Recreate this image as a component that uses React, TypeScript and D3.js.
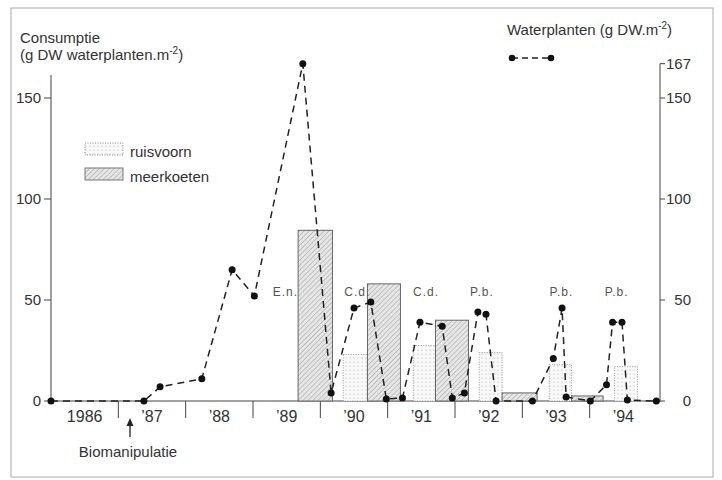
import React from "react";
import * as d3 from "d3";

// year labels and the boundaries between the years
const yearLabels = ["1986", "’87", "’88", "’89", "’90", "’91", "’92", "’93", "’94"];
const yearStarts = [1986, 1987, 1988, 1989, 1990, 1991, 1992, 1993, 1994];
const yearTicks = [1987, 1988, 1989, 1990, 1991, 1992, 1993, 1994];
const leftTicks = [0, 50, 100, 150];
const rightTicks = [0, 50, 100, 150, 167];

// waterplanten biomass (dashed line)
const plantYear = [
	1986.0, 1987.38, 1987.62, 1988.24, 1988.69, 1989.02, 1989.74, 1990.16, 1990.5,
	1990.75, 1990.98, 1991.22, 1991.48, 1991.81, 1991.96, 1992.14, 1992.34, 1992.46,
	1992.61, 1993.15, 1993.46, 1993.59, 1993.65, 1994.01, 1994.25, 1994.34, 1994.48,
	1994.56, 1994.99,
];
const plantValue = [
	0, 0, 7, 11, 65, 52, 167, 4, 46, 49, 1, 1.5, 39, 37, 1.5, 4, 44, 43, 0, 0, 21, 46,
	2, 0, 8, 39, 39, 0.5, 0,
];

// consumption bars
const ruisvoornStart = [1990.34, 1991.38, 1992.36, 1993.4, 1994.37];
const ruisvoornEnd = [1990.7, 1991.71, 1992.7, 1993.73, 1994.71];
const ruisvoornValue = [23, 27.5, 24, 18, 17];
const meerkoetenStart = [1989.67, 1990.7, 1991.71, 1992.7, 1993.73];
const meerkoetenEnd = [1990.18, 1991.19, 1992.2, 1993.22, 1994.2];
const meerkoetenValue = [84.5, 58, 40, 4, 2.5];

// species notes above the peaks
const noteText = ["E.n.", "C.d.", "C.d.", "P.b.", "P.b.", "P.b."];
const noteYear = [1989.48, 1990.55, 1991.57, 1992.4, 1993.58, 1994.4];
const noteLevel = 52;

const App = () => {
	const width = 722;
	const height = 480;
	const font = "'Liberation Sans', Arial, sans-serif";
	const ink = "#333";

	const x = d3.scaleLinear().domain([1986, 1995]).range([51, 657]);
	const y = d3.scaleLinear().domain([0, 150]).range([401, 98]);
	const x0 = x(1986);
	const xEnd = x(1995);
	const rightX = 660;

	const line = d3
		.line<number>()
		.x((d, i) => x(plantYear[i]))
		.y((d) => y(d));

	return (
		<svg
			width={width}
			height={height}
			style={{ position: "absolute", left: 0, top: 0, background: "#fff" }}
			fontFamily={font}
		>
			<defs>
				<pattern id="hatch" patternUnits="userSpaceOnUse" width={3.5} height={3.5} patternTransform="rotate(45)">
					<rect width={3.5} height={3.5} fill="#e6e6e6" />
					<line x1={0} y1={0} x2={0} y2={3.5} stroke="#9a9a9a" strokeWidth={1} />
				</pattern>
				<pattern id="dots" patternUnits="userSpaceOnUse" width={4} height={4}>
					<rect width={4} height={4} fill="#f9f9f9" />
					<circle cx={2} cy={2} r={0.6} fill="#aaa" />
				</pattern>
			</defs>

			{/* frame */}
			<rect x={11} y={8} width={702} height={469} fill="none" stroke="#aaa" strokeWidth={1} />

			{/* titles */}
			<text x={20} y={43} fontSize={15} fill={ink}>Consumptie</text>
			<text x={20} y={60} fontSize={15} fill={ink}>
				(g DW waterplanten.m<tspan fontSize={10} dy={-6}>-2</tspan>
				<tspan dy={6}>)</tspan>
			</text>
			<text x={507} y={35} fontSize={15} fill={ink}>
				Waterplanten (g DW.m<tspan fontSize={10} dy={-6}>-2</tspan>
				<tspan dy={6}>)</tspan>
			</text>
			<line x1={512} y1={58} x2={551} y2={58} stroke="#222" strokeWidth={1.4} strokeDasharray="6,4" />
			<circle cx={512} cy={58} r={3.3} fill="#111" />
			<circle cx={551} cy={58} r={3.3} fill="#111" />

			{/* legend */}
			<rect x={85} y={143} width={38} height={12} fill="url(#dots)" stroke="#888" strokeDasharray="1,1.5" />
			<text x={130} y={157} fontSize={15} fill={ink}>ruisvoorn</text>
			<rect x={85} y={168} width={38} height={12} fill="url(#hatch)" stroke="#777" />
			<text x={130} y={182} fontSize={15} fill={ink}>meerkoeten</text>

			{/* left axis */}
			<line x1={x0} y1={75} x2={x0} y2={y(0)} stroke="#444" />
			{leftTicks.map((t) => (
				<g key={`l${t}`}>
					<line x1={x0 - 7} x2={x0} y1={y(t)} y2={y(t)} stroke="#444" />
					<text x={41} y={y(t) + 5} fontSize={15} textAnchor="end" fill={ink}>{t}</text>
				</g>
			))}

			{/* right axis */}
			<line x1={rightX} y1={y(167)} x2={rightX} y2={y(0) + 1} stroke="#444" />
			{rightTicks.map((t) => (
				<g key={`r${t}`}>
					<line x1={rightX} x2={rightX + 5} y1={y(t)} y2={y(t)} stroke="#444" />
					<text x={691} y={y(t) + 5} fontSize={15} textAnchor="end" fill={ink}>{t}</text>
				</g>
			))}

			{/* bottom axis */}
			<line x1={x0} x2={xEnd} y1={y(0)} y2={y(0)} stroke="#444" />
			{yearTicks.map((t) => (
				<line key={`t${t}`} x1={x(t)} x2={x(t)} y1={y(0)} y2={y(0) + 17} stroke="#444" />
			))}
			{yearLabels.map((lab, i) => (
				<text key={lab} x={x(yearStarts[i] + 0.5)} y={422} fontSize={16} textAnchor="middle" fill={ink}>
					{lab}
				</text>
			))}

			{/* biomanipulation arrow */}
			<line x1={130} x2={130} y1={437} y2={424} stroke="#222" strokeWidth={1.3} />
			<path d="M126.5,426 L130,418 L133.5,426 Z" fill="#222" />
			<text x={128} y={457} fontSize={15} textAnchor="middle" fill={ink}>Biomanipulatie</text>

			{/* bars */}
			{ruisvoornValue.map((v, i) => (
				<rect
					key={`rv${i}`}
					x={x(ruisvoornStart[i])}
					y={y(v)}
					width={x(ruisvoornEnd[i]) - x(ruisvoornStart[i])}
					height={y(0) - y(v)}
					fill="url(#dots)"
					stroke="#999"
					strokeDasharray="1,1.5"
				/>
			))}
			{meerkoetenValue.map((v, i) => (
				<rect
					key={`mk${i}`}
					x={x(meerkoetenStart[i])}
					y={y(v)}
					width={x(meerkoetenEnd[i]) - x(meerkoetenStart[i])}
					height={y(0) - y(v)}
					fill="url(#hatch)"
					stroke="#666"
				/>
			))}

			{/* notes */}
			{noteText.map((n, i) => (
				<text key={`n${i}`} x={x(noteYear[i])} y={y(noteLevel)} fontSize={12} textAnchor="middle" fill="#555" letterSpacing={1}>
					{n}
				</text>
			))}

			{/* waterplanten line */}
			<path d={line(plantValue) || ""} fill="none" stroke="#222" strokeWidth={1.5} strokeDasharray="7,5" />
			{plantValue.map((v, i) => (
				<circle key={`p${i}`} cx={x(plantYear[i])} cy={y(v)} r={3.5} fill="#111" />
			))}
		</svg>
	);
};

export default App;
